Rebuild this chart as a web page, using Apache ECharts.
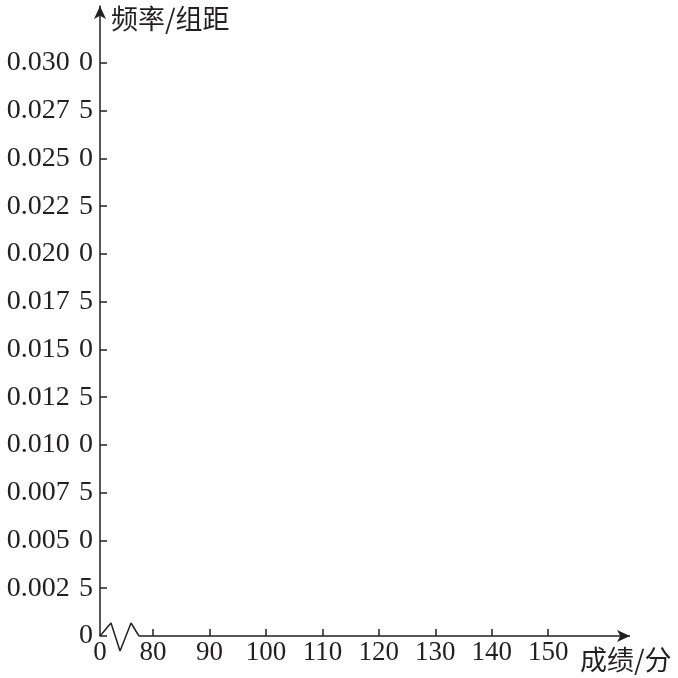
<!DOCTYPE html>
<html>
<head>
<meta charset="utf-8">
<script src="https://cdn.jsdelivr.net/npm/echarts@6/dist/echarts.min.js"></script>
<style>html,body{margin:0;padding:0;background:#fff;}#c{width:678px;height:678px;}</style>
</head>
<body>
<div id="c"></div>
<script>
// Tick values
const yTicks = [0, 0.0025, 0.005, 0.0075, 0.01, 0.0125, 0.015, 0.0175, 0.02, 0.0225, 0.025, 0.0275, 0.03];
const xTicks = [80, 90, 100, 110, 120, 130, 140, 150];
// Axis extents
const xMin = 70.6, xMax = 164.5;
const yMin = 0, yMax = 0.03298;
// Axis-break zigzag (decoration)
const breakX = [70.6, 72.55, 74.15, 76.1, 77.5];
const breakY = [0, 0.00068, -0.00079, 0.00068, 0];
const yName = '频率/组距';
const xName = '成绩/分';

const ink = '#231f20';
const serif = '"Liberation Serif", "Times New Roman", serif';
const cjk = '"Noto Sans CJK SC", sans-serif';

const chart = echarts.init(document.getElementById('c'));
chart.setOption({
  animation: false,
  grid: { left: 100, right: 48, top: 6, bottom: 42 },
  xAxis: {
    type: 'value', min: xMin, max: xMax,
    axisLine: { show: false },
    splitLine: { show: false },
    axisTick: { show: true, inside: true, length: 7, customValues: xTicks, lineStyle: { color: ink, width: 1.5 } },
    axisLabel: {
      customValues: [xMin].concat(xTicks), margin: 3,
      fontFamily: serif, fontSize: 27, color: ink,
      formatter: v => (Math.abs(v - xMin) < 1e-6 ? '0' : String(v))
    }
  },
  yAxis: {
    type: 'value', min: yMin, max: yMax,
    axisLine: { show: true, symbol: ['none', 'arrow'], symbolSize: [9, 13], lineStyle: { color: ink, width: 1.5 } },
    splitLine: { show: false },
    axisTick: { show: true, inside: true, length: 7, customValues: yTicks, lineStyle: { color: ink, width: 1.5 } },
    axisLabel: {
      customValues: yTicks, margin: 7,
      fontFamily: serif, fontSize: 28, color: ink,
      formatter: v => {
        if (v === 0) return '0';
        const s = v.toFixed(4);
        return s.slice(0, -1) + '\u2004' + s.slice(-1);
      }
    }
  },
  series: [{
    type: 'line',
    clip: false,
    symbol: 'none',
    silent: true,
    data: breakX.map((x, i) => [x, breakY[i]]),
    lineStyle: { color: ink, width: 1.5 },
    markLine: {
      silent: true,
      symbol: ['none', 'arrow'],
      symbolSize: [9, 13],
      label: { show: false },
      lineStyle: { color: ink, width: 1.5, type: 'solid' },
      data: [[{ coord: [breakX[breakX.length - 1], 0] }, { coord: [xMax, 0] }]]
    }
  }],
  graphic: [
    { type: 'text', left: 111, top: 5, style: { text: yName, font: '27px ' + cjk, fill: ink } },
    { type: 'text', left: 580, top: 646, style: { text: xName, font: '27px ' + cjk, fill: ink } }
  ]
});
</script>
</body>
</html>
